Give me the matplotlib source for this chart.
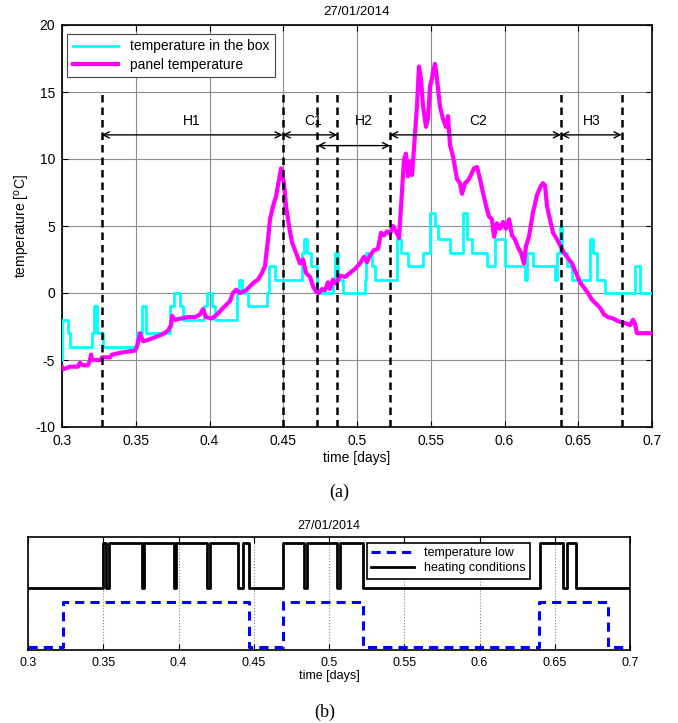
import matplotlib
matplotlib.use('Agg')
import matplotlib.pyplot as plt

plt.rcParams['font.family'] = ['Liberation Sans', 'DejaVu Sans']
plt.rcParams['axes.unicode_minus'] = False

# ---- (a) temperatures, 27/01/2014 ----
# temperature in the box (step signal, 1 degree resolution)
box_t = [0.3000, 0.3003, 0.3040, 0.3054, 0.3203, 0.3220, 0.3240, 0.3280, 0.3508, 0.3540,
         0.3569, 0.3732, 0.3760, 0.3800, 0.3820, 0.3960, 0.3983, 0.4017, 0.4040, 0.4186,
         0.4200, 0.4220, 0.4261, 0.4390, 0.4405, 0.4444, 0.4627, 0.4640, 0.4661, 0.4690,
         0.4729, 0.4840, 0.4851, 0.4871, 0.4905, 0.5054, 0.5062, 0.5102, 0.5122, 0.5271,
         0.5298, 0.5346, 0.5447, 0.5495, 0.5529, 0.5549, 0.5631, 0.5719, 0.5746, 0.5780,
         0.5881, 0.5936, 0.6003, 0.6139, 0.6153, 0.6193, 0.6342, 0.6356, 0.6376, 0.6390,
         0.6424, 0.6458, 0.6580, 0.6600, 0.6627, 0.6681, 0.6885, 0.6919, 0.7000]
box_temp = [-5, -2, -3, -4, -3, -1, -3, -4, -3, -1,
            -3, -1, 0, -1, -2, -1, 0, -1, -2, 0,
            1, 0, -1, 0, 2, 1, 3, 4, 3, 2,
            0, 1, 3, 1, 0, 1, 3, 2, 1, 4,
            3, 2, 3, 6, 5, 4, 3, 6, 4, 3,
            2, 4, 2, 1, 3, 2, 1, 3, 5, 3,
            2, 1, 4, 3, 1, 0, 2, 0, 0]

# panel temperature
panel_t = [0.3000, 0.3007, 0.3054, 0.3108, 0.3122, 0.3142, 0.3176, 0.3190, 0.3197, 0.3203,
           0.3264, 0.3271, 0.3325, 0.3339, 0.3380, 0.3427, 0.3495, 0.3508, 0.3529, 0.3549,
           0.3583, 0.3631, 0.3678, 0.3719, 0.3739, 0.3746, 0.3766, 0.3854, 0.3902, 0.3936,
           0.3956, 0.3976, 0.4017, 0.4051, 0.4085, 0.4112, 0.4139, 0.4159, 0.4180, 0.4207,
           0.4247, 0.4275, 0.4302, 0.4329, 0.4356, 0.4376, 0.4397, 0.4410, 0.4431, 0.4451,
           0.4464, 0.4485, 0.4492, 0.4505, 0.4519, 0.4539, 0.4559, 0.4586, 0.4614, 0.4634,
           0.4654, 0.4681, 0.4702, 0.4722, 0.4742, 0.4763, 0.4783, 0.4803, 0.4817, 0.4837,
           0.4858, 0.4885, 0.4919, 0.4953, 0.4986, 0.5020, 0.5047, 0.5068, 0.5088, 0.5115,
           0.5142, 0.5163, 0.5183, 0.5203, 0.5224, 0.5244, 0.5264, 0.5285, 0.5305, 0.5319,
           0.5332, 0.5346, 0.5359, 0.5373, 0.5386, 0.5407, 0.5420, 0.5434, 0.5447, 0.5468,
           0.5481, 0.5495, 0.5508, 0.5515, 0.5529, 0.5542, 0.5563, 0.5583, 0.5603, 0.5617,
           0.5631, 0.5651, 0.5678, 0.5698, 0.5712, 0.5732, 0.5753, 0.5773, 0.5793, 0.5814,
           0.5834, 0.5854, 0.5875, 0.5895, 0.5915, 0.5929, 0.5949, 0.5969, 0.5990, 0.6010,
           0.6031, 0.6051, 0.6071, 0.6092, 0.6112, 0.6132, 0.6146, 0.6166, 0.6193, 0.6220,
           0.6247, 0.6261, 0.6275, 0.6288, 0.6308, 0.6329, 0.6356, 0.6376, 0.6403, 0.6431,
           0.6458, 0.6485, 0.6512, 0.6539, 0.6566, 0.6593, 0.6620, 0.6647, 0.6675, 0.6702,
           0.6736, 0.6769, 0.6803, 0.6831, 0.6851, 0.6871, 0.6885, 0.6898, 0.7000]
panel_temp = [-5.5, -5.7, -5.5, -5.5, -5.2, -5.4, -5.4, -5.0, -4.6, -5.0,
              -5.0, -4.8, -4.8, -4.6, -4.5, -4.4, -4.3, -4.0, -3.0, -3.6,
              -3.5, -3.3, -3.1, -2.8, -2.4, -1.7, -2.0, -1.8, -1.8, -1.6,
              -1.2, -1.8, -1.9, -1.6, -1.2, -0.9, -0.6, 0.0, 0.25, 0.0,
              0.2, 0.5, 0.8, 1.0, 1.5, 2.0, 4.0, 5.5, 6.5, 7.2,
              8.0, 9.3, 8.8, 8.2, 6.5, 5.0, 3.8, 3.0, 2.2, 2.5,
              1.5, 1.2, 0.5, 0.1, 0.0, 0.3, 0.2, 0.8, 0.3, 1.0,
              0.7, 1.3, 1.2, 1.5, 1.8, 2.2, 2.7, 2.3, 2.8, 3.2,
              3.3, 4.5, 4.3, 4.6, 4.4, 5.0, 4.6, 4.1, 7.5, 10.0,
              10.4, 8.7, 9.8, 8.8, 10.7, 14.0, 16.9, 16.0, 14.0, 12.4,
              13.0, 15.4, 16.0, 16.5, 17.1, 16.0, 13.9, 13.0, 12.4, 13.2,
              11.0, 10.2, 8.5, 8.2, 7.4, 8.2, 8.4, 8.8, 9.3, 9.4,
              8.5, 7.5, 6.5, 5.7, 5.5, 4.2, 5.2, 4.8, 5.3, 4.8,
              5.5, 4.3, 4.0, 3.4, 3.0, 2.2, 3.5, 4.2, 6.0, 7.3,
              8.0, 8.2, 8.0, 6.5, 5.5, 4.5, 4.0, 3.6, 3.0, 2.6,
              2.2, 1.5, 0.8, 0.4, 0.0, -0.5, -0.8, -1.1, -1.6, -1.8,
              -1.9, -2.1, -2.2, -2.3, -2.4, -2.0, -2.3, -3.0, -3.0]

# heating / cooling phases
phase_names = ['H1', 'C1', 'H2', 'C2', 'H3']
phase_start = [0.3269, 0.4496, 0.4731, 0.5224, 0.6383]
phase_end = [0.4496, 0.4867, 0.5224, 0.6383, 0.6794]
phase_bounds = [0.3269, 0.4496, 0.4731, 0.4867, 0.5224, 0.6383, 0.6794]

# ---- (b) logic signals ----
heat_t = [0.3000, 0.3500, 0.3515, 0.3535, 0.3755, 0.3771, 0.3970, 0.3985, 0.4187, 0.4209,
          0.4395, 0.4427, 0.4470, 0.4697, 0.4834, 0.4854, 0.5050, 0.5073, 0.5228, 0.6402,
          0.6557, 0.6581, 0.6641, 0.7000]
heat_state = [0, 1, 0, 1, 0, 1, 0, 1, 0, 1,
              0, 1, 0, 1, 0, 1, 0, 1, 0, 1,
              0, 1, 0, 0]
low_t = [0.3000, 0.3235, 0.4470, 0.4697, 0.5228, 0.6397, 0.6856, 0.7000]
low_state = [0, 1, 0, 1, 0, 1, 0, 0]

xticks = [0.3, 0.35, 0.4, 0.45, 0.5, 0.55, 0.6, 0.65, 0.7]
xticklabels = ['0.3', '0.35', '0.4', '0.45', '0.5', '0.55', '0.6', '0.65', '0.7']

fig = plt.figure(figsize=(6.78, 7.23), dpi=100)

# top chart
ax = fig.add_axes([62/678, 1 - 427/723, 590/678, 402/723])
ax.plot(box_t, box_temp, color='#00ffff', lw=2, drawstyle='steps-post',
        label='temperature in the box', zorder=3)
ax.plot(panel_t, panel_temp, color='#ff00ff', lw=3, label='panel temperature', zorder=4)

for xb in phase_bounds:
    ax.plot([xb, xb], [-10, 15], color='k', lw=1.8, ls=(0, (3, 2)), zorder=5)

arrow_y = [11.8, 11.8, 11.0, 11.8, 11.8]
label_x = [0.388, 0.4705, 0.5045, 0.582, 0.659]
for name, x0, x1, ya, xl in zip(phase_names, phase_start, phase_end, arrow_y, label_x):
    ax.annotate('', xy=(x1, ya), xytext=(x0, ya),
                arrowprops=dict(arrowstyle='<->', color='k', lw=1,
                                shrinkA=0, shrinkB=0, mutation_scale=11), zorder=6)
    ax.text(xl, 12.8, name, ha='center', va='center', fontsize=10)

ax.set_xlim(0.3, 0.7)
ax.set_ylim(-10, 20)
ax.set_xticks(xticks)
ax.set_xticklabels(xticklabels)
ax.set_yticks([-10, -5, 0, 5, 10, 15, 20])
ax.tick_params(direction='in', top=True, right=True, length=4, labelsize=10, pad=5)
ax.grid(True, color='#8c8c8c', lw=0.8)
for s in ax.spines.values():
    s.set_linewidth(1.2)
ax.set_title('27/01/2014', fontsize=9.5, pad=7)
ax.set_xlabel('time [days]', fontsize=10, labelpad=2)
ax.set_ylabel(r'temperature [$^{\mathrm{o}}$C]', fontsize=10, labelpad=2)
leg = ax.legend(loc='upper left', bbox_to_anchor=(0.0085, 0.978), borderaxespad=0,
                fontsize=10, handlelength=3.3, fancybox=False, framealpha=1,
                edgecolor='#444444', borderpad=0.4, labelspacing=0.3)
leg.get_frame().set_linewidth(0.8)

fig.text(339/678, 1 - 492/723, '(a)', ha='center', va='center', fontsize=13,
         family=['Liberation Serif', 'DejaVu Serif'])

# bottom chart
ax2 = fig.add_axes([28/678, 1 - 650/723, 602/678, 113/723])
ax2.plot(low_t, low_state, color='#0000ff', lw=2.2, ls=(0, (3, 2)),
         drawstyle='steps-post', label='temperature low')
ax2.plot(heat_t, [v + 1.3 for v in heat_state], color='k', lw=2,
         drawstyle='steps-post', label='heating conditions')
ax2.set_xlim(0.3, 0.7)
ax2.set_ylim(-0.067, 2.44)
ax2.set_xticks(xticks)
ax2.set_xticklabels(xticklabels)
ax2.set_yticks([])
ax2.tick_params(direction='in', top=True, length=4, labelsize=9, pad=5)
ax2.grid(True, axis='x', color='#888888', lw=0.8, ls=':')
for s in ax2.spines.values():
    s.set_linewidth(1.2)
ax2.set_title('27/01/2014', fontsize=9, pad=6)
ax2.set_xlabel('time [days]', fontsize=9, labelpad=1)
leg2 = ax2.legend(loc='upper left', bbox_to_anchor=(0.563, 0.947), borderaxespad=0,
                  fontsize=9, handlelength=3.4, fancybox=False, framealpha=1,
                  edgecolor='k', borderpad=0.35, labelspacing=0.25)
leg2.get_frame().set_linewidth(1.2)

fig.text(325/678, 1 - 712/723, '(b)', ha='center', va='center', fontsize=13,
         family=['Liberation Serif', 'DejaVu Serif'])

fig.savefig('out.png', dpi=100)
